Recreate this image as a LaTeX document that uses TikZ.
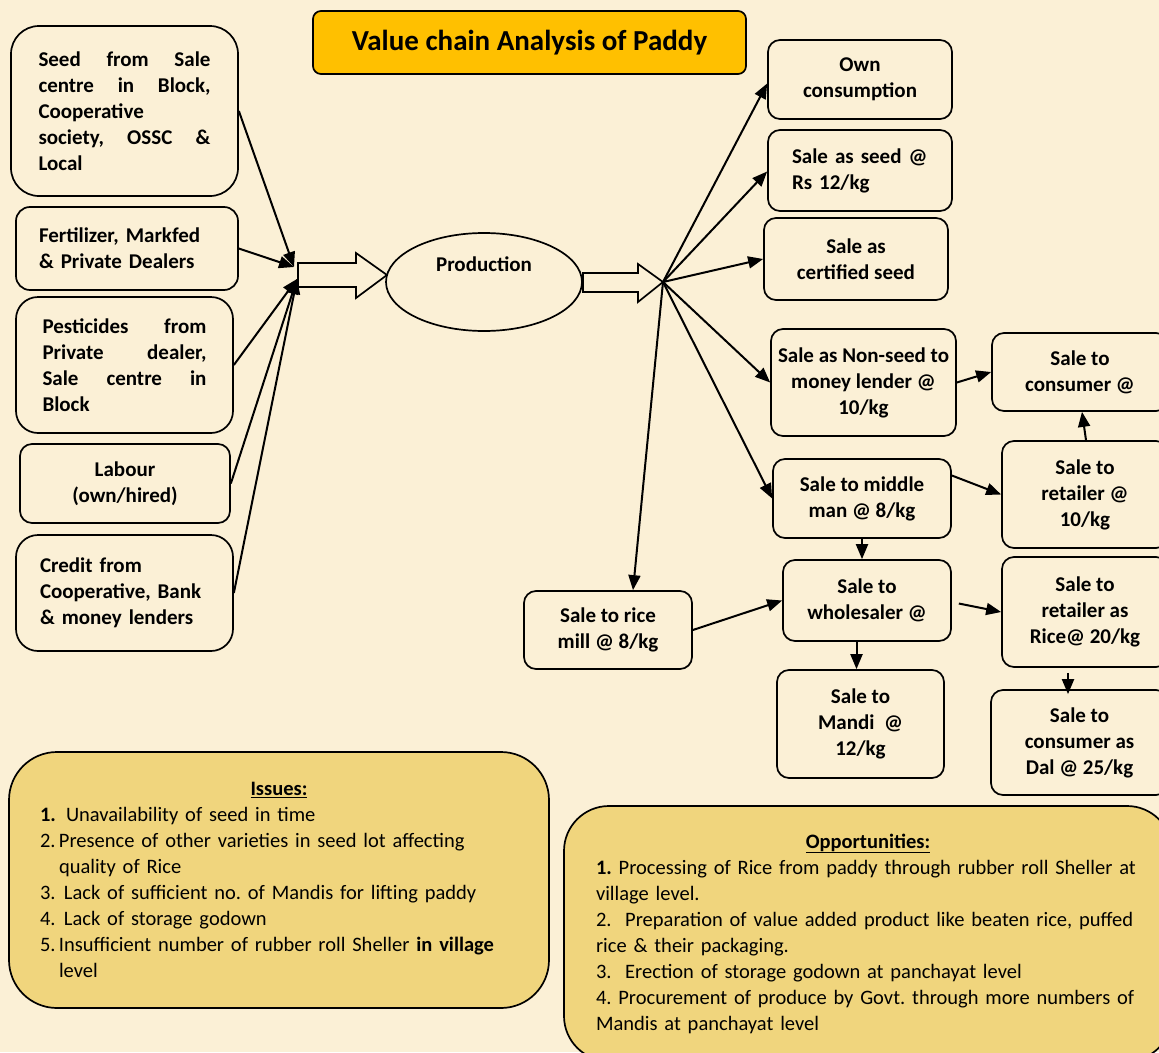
\documentclass[tikz,border=0pt]{standalone}
\usepackage{fontspec}
\setmainfont{Carlito}
\usetikzlibrary{arrows.meta,shapes.geometric}
\definecolor{bg}{RGB}{251,240,214}
\definecolor{titlefill}{RGB}{255,192,0}
\definecolor{notefill}{RGB}{240,213,125}
\tikzset{
  box/.style={draw, line width=1.7pt, rounded corners=12pt, fill=bg,
    font=\bfseries\fontsize{21}{26}\selectfont, align=center, inner sep=0pt},
  note/.style={draw, line width=1.7pt, rounded corners=48pt, fill=notefill,
    font=\fontsize{20.5}{26}\selectfont, align=left, inner sep=0pt},
  conn/.style={line width=2pt, -{Triangle[length=15pt,width=12pt]}},
  blockarrow/.style={draw, line width=1.7pt, fill=bg, line join=miter}
}
\begin{document}
\frenchspacing
\begin{tikzpicture}[x=1pt,y=-1pt]
\useasboundingbox (0,0) rectangle (1159,1052);
\fill[bg] (0,0) rectangle (1159,1052);

% title
\node[box, fill=titlefill, rounded corners=8pt, minimum width=433pt, minimum height=63pt,
  font=\bfseries\fontsize{29}{32}\selectfont] (title) at (529.5,42.5) {Value chain Analysis of Paddy};

% inputs
\node[box, rounded corners=28pt, minimum width=227pt, minimum height=170pt, text width=172pt, align=left]
  (seed) at (124.5,111) {Seed\hfill from\hfill Sale\\ centre\hfill in\hfill Block,\\ Cooperative\\ society,\hfill OSSC\hfill \&\\ Local};
\node[box, rounded corners=14pt, minimum width=222pt, minimum height=83pt, text width=176pt, align=left]
  (fert) at (127,248.5) {\mbox{Fertilizer, Markfed}\\ \mbox{\& Private Dealers}};
\node[box, rounded corners=22pt, minimum width=217pt, minimum height=136pt, text width=164pt, align=left]
  (pest) at (124.5,365) {Pesticides\hfill from\\ Private\hfill dealer,\\ Sale\hfill centre\hfill in\\ Block};
\node[box, minimum width=210pt, minimum height=79pt]
  (lab) at (125,483.5) {Labour\\ (own/hired)};
\node[box, rounded corners=22pt, minimum width=217pt, minimum height=116pt, text width=169pt, align=left]
  (cred) at (124.5,593) {\mbox{Credit from}\\ \mbox{Cooperative, Bank}\\ \mbox{\& money lenders}};

\coordinate (conv1) at (294,267);
\coordinate (conv2) at (297,279);
\coordinate (fan) at (663,282);

% block arrows
\draw[blockarrow] (298,263) -- (356,263) -- (356,253) -- (387,275) -- (356,298) -- (356,287) -- (298,287) -- cycle;
\node[draw, line width=1.7pt, ellipse, fill=bg, minimum width=196pt, minimum height=98pt, inner sep=0pt,
  font=\bfseries\fontsize{21}{26}\selectfont] (prod) at (484,282) {\smash{\raisebox{11pt}{Production}}};
\draw[blockarrow] (583,273) -- (638,273) -- (638,264) -- (663,282) -- (638,302) -- (638,292) -- (583,292) -- cycle;

% outputs
\node[box, minimum width=184pt, minimum height=79pt] (own) at (860,79.5) {Own\\ consumption};
\node[box, minimum width=184pt, minimum height=81pt, text width=136pt, align=left] (sseed) at (860,170.5) {\mbox{Sale as seed @}\\ \mbox{Rs 12/kg}};
\node[box, minimum width=184pt, minimum height=82pt] (cert) at (856,259) {Sale as\\ certified seed};
\node[box, minimum width=185pt, minimum height=107pt] (nseed) at (863.5,382.5) {Sale as Non-seed to\\ money lender @\\ 10/kg};
\node[box, minimum width=178pt, minimum height=79pt] (mm) at (862,498.5) {Sale to middle\\ man @ 8/kg};
\node[box, minimum width=168pt, minimum height=78pt] (rmill) at (608,630) {Sale to rice\\ mill @ 8/kg};
\node[box, minimum width=176pt, minimum height=78pt] (cons) at (1080,372) {Sale to\\ consumer @};
\node[box, minimum width=166pt, minimum height=107pt] (ret) at (1085,494.5) {Sale to\\ retailer @\\ 10/kg};
\node[box, minimum width=168pt, minimum height=81pt] (wh) at (867,600.5) {Sale to\\ wholesaler @};
\node[box, minimum width=166pt, minimum height=110pt] (ret2) at (1085,612) {Sale to\\ retailer as\\ Rice@ 20/kg};
\node[box, minimum width=167pt, minimum height=108pt] (mandi) at (860.5,724) {Sale to\\ Mandi\ \ @\\ 12/kg};
\node[box, minimum width=177pt, minimum height=105pt] (dal) at (1079.5,742.5) {Sale to\\ consumer as\\ Dal @ 25/kg};

% input connectors
\draw[conn] (seed.east) -- (conv1);
\draw[conn] (fert.east) -- (conv1);
\draw[conn] (pest.east) -- (conv2);
\draw[conn] (lab.east) -- (conv2);
\draw[conn] (cred.east) -- (conv2);

% output connectors
\draw[conn] (fan) -- ([yshift=-4pt]own.west);
\draw[conn] (fan) -- ([yshift=-1pt]sseed.west);
\draw[conn] (fan) -- (cert.west);
\draw[conn] (fan) -- (nseed.west);
\draw[conn] (fan) -- (mm.west);
\draw[conn] (fan) -- ([xshift=25pt]rmill.north);
\draw[conn] (nseed.east) -- (cons.west);
\draw[conn] ([xshift=1pt]ret.north) -- ([xshift=2pt]cons.south);
\draw[conn] ([yshift=23pt]mm.east) -- (ret.west);
\draw[conn] (mm.south) -- (mm.south |- wh.north);
\draw[conn] (rmill.east) -- (wh.west);
\draw[conn] ([xshift=7pt,yshift=-3pt]wh.east) -- (ret2.west);
\draw[conn] ([xshift=-4pt]mandi.north |- wh.south) -- ([xshift=-4pt]mandi.north);
\draw[conn] ([xshift=-17pt,yshift=-5pt]ret2.south) -- ([xshift=-17pt,yshift=-5pt]ret2.south |- dal.north);

% notes
\node[note, minimum width=540pt, minimum height=256pt, text width=478pt] (issues) at (279,880) {%
\makebox[478pt][c]{\underline{\textbf{Issues:}}}\\
\makebox[26pt][l]{\textbf{1.}}Unavailability of seed in time\\
\makebox[19pt][l]{2.}\mbox{Presence of other varieties in seed lot affecting}\\
\hspace*{19pt}quality of Rice\\
\makebox[24pt][l]{3.}\mbox{Lack of sufficient no. of Mandis for lifting paddy}\\
\makebox[24pt][l]{4.}Lack of storage godown\\
\makebox[19pt][l]{5.}\mbox{Insufficient number of rubber roll Sheller \textbf{in village}}\\
\hspace*{19pt}level};

\node[note, rounded corners=45pt, minimum width=608pt, minimum height=255pt, text width=544pt] (opp) at (868,933.5) {%
\makebox[544pt][c]{\underline{\textbf{Opportunities:}}}\\
\mbox{\textbf{1.} Processing of Rice from paddy through rubber roll Sheller at}\\
village level.\\
\mbox{2.\ \ Preparation of value added product like beaten rice, puffed}\\
rice \& their packaging.\\
\mbox{3.\ \ Erection of storage godown at panchayat level}\\
\mbox{4. Procurement of produce by Govt. through more numbers of}\\
Mandis at panchayat level};
\end{tikzpicture}
\end{document}
